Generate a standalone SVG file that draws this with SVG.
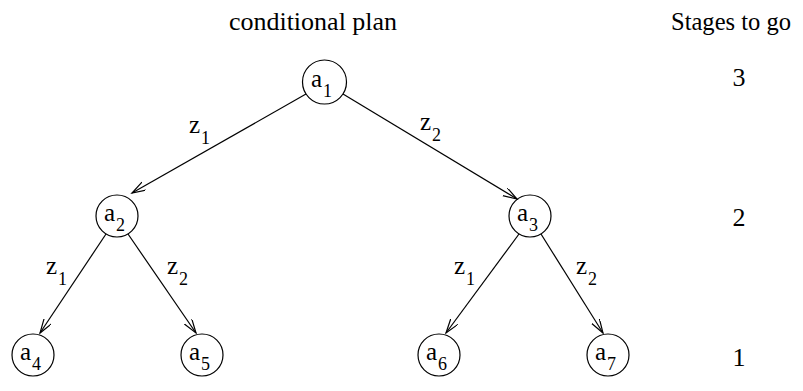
<svg xmlns="http://www.w3.org/2000/svg" width="803" height="391" viewBox="0 0 803 391">
<defs>
<style>
text{font-family:"Liberation Serif","Times New Roman",serif;fill:#000}
.t{font-size:26px}
.n{font-size:25px}
.s{font-size:18px}
circle{fill:none;stroke:#000;stroke-width:1.2}
.e{stroke:#000;stroke-width:1.2;fill:none;marker-end:url(#ar)}
</style>
<marker id="ar" markerWidth="16" markerHeight="12" refX="14" refY="4.5" orient="auto" markerUnits="userSpaceOnUse">
<path d="M0,0 L14,4.5 L0,9" fill="none" stroke="#000" stroke-width="1.2"/>
</marker>
</defs>
<text class="t" x="313" y="30" text-anchor="middle">conditional plan</text>
<text class="t" x="731" y="30" text-anchor="middle" textLength="120" lengthAdjust="spacingAndGlyphs">Stages to go</text>
<text class="t" x="739" y="86" text-anchor="middle">3</text>
<text class="t" x="739" y="226" text-anchor="middle">2</text>
<text class="t" x="739" y="366" text-anchor="middle">1</text>
<g id="connectors">
<line class="e" x1="306" y1="94" x2="132" y2="193"/>
<line class="e" x1="343" y1="94" x2="517" y2="199"/>
<line class="e" x1="106" y1="234" x2="40" y2="333"/>
<line class="e" x1="128" y1="234" x2="196" y2="333"/>
<line class="e" x1="519" y1="234" x2="446" y2="333"/>
<line class="e" x1="541" y1="234" x2="603" y2="333"/>
<text class="n" x="189" y="133">z</text><text class="s" x="201" y="144">1</text>
<text class="n" x="420" y="130">z</text><text class="s" x="432" y="141">2</text>
<text class="n" x="46" y="274">z</text><text class="s" x="58" y="285">1</text>
<text class="n" x="167" y="274">z</text><text class="s" x="179" y="285">2</text>
<text class="n" x="454" y="274">z</text><text class="s" x="466" y="285">1</text>
<text class="n" x="576" y="274">z</text><text class="s" x="588" y="285">2</text>
</g>
<g id="a1"><circle cx="324.5" cy="82" r="22"/><text class="n" x="311" y="87">a</text><text class="s" x="323" y="97">1</text></g>
<g id="a2"><circle cx="117" cy="216" r="21"/><text class="n" x="104" y="221">a</text><text class="s" x="116" y="231">2</text></g>
<g id="a3"><circle cx="530" cy="216" r="21"/><text class="n" x="517" y="221">a</text><text class="s" x="529" y="231">3</text></g>
<g id="a4"><circle cx="33" cy="355" r="21"/><text class="n" x="20" y="360">a</text><text class="s" x="32" y="370">4</text></g>
<g id="a5"><circle cx="202" cy="355" r="21"/><text class="n" x="189" y="360">a</text><text class="s" x="201" y="370">5</text></g>
<g id="a6"><circle cx="439" cy="355" r="21"/><text class="n" x="426" y="360">a</text><text class="s" x="438" y="370">6</text></g>
<g id="a7"><circle cx="608" cy="355" r="21"/><text class="n" x="595" y="360">a</text><text class="s" x="607" y="370">7</text></g>
</svg>
